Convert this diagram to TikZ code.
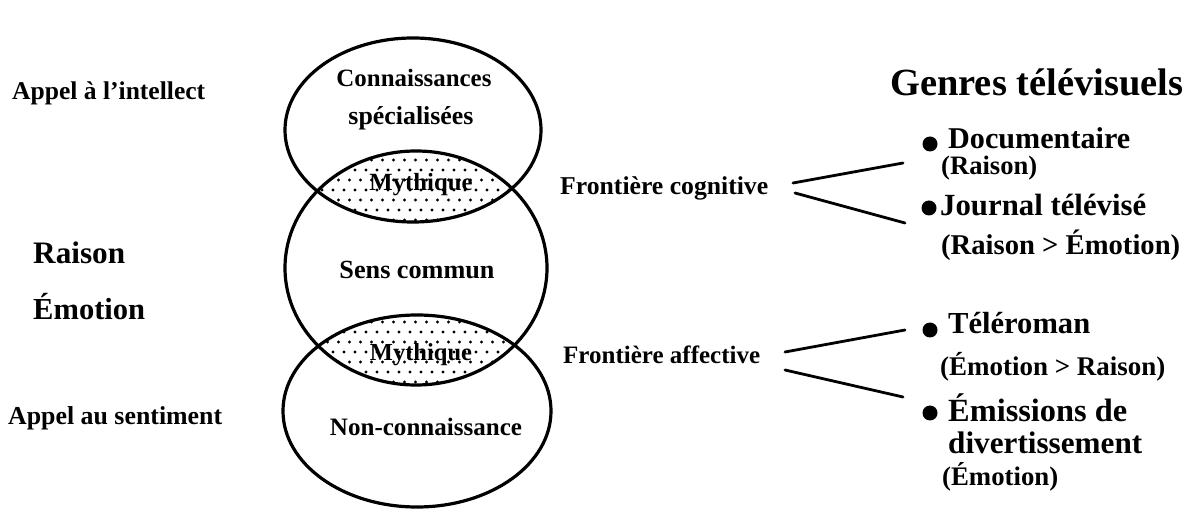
\documentclass[tikz,border=0pt]{standalone}
\usepackage{fontspec}
\setmainfont{Liberation Serif}
\usetikzlibrary{shapes.geometric}
\newcommand\fw[2]{\resizebox{#1bp}{!}{#2}}
\tikzset{
  circ/.style={draw, ellipse, line width=3.2bp, inner sep=0pt},
  lbl/.style={inner sep=0pt, font=\bfseries},
  lft/.style={lbl, anchor=west},
  conn/.style={line width=2.8bp, line cap=round},
  bul/.style={circle, fill=black, inner sep=0pt, minimum size=15bp}
}
\begin{document}
\begin{tikzpicture}[x=1bp,y=-1bp]
\useasboundingbox (0,0) rectangle (1198,511);
% stippled lenses
\begin{scope}
  \clip (413,130) ellipse [x radius=128, y radius=92];
  \clip (416,268) ellipse [x radius=131, y radius=117];
  \foreach \r in {0,...,8}{
    \foreach \c in {0,...,20}{
      \pgfmathsetmacro\xx{300+\c*11+mod(\r,2)*5.5}
      \fill (\xx,150+\r*10) circle (1.7);
    }
  }
\end{scope}
\begin{scope}
  \clip (416,268) ellipse [x radius=131, y radius=117];
  \clip (417,411) ellipse [x radius=134, y radius=96];
  \foreach \r in {0,...,8}{
    \foreach \c in {0,...,20}{
      \pgfmathsetmacro\xx{300+\c*11+mod(\r,2)*5.5}
      \fill (\xx,312+\r*10) circle (1.7);
    }
  }
\end{scope}
% circles
\node[circ, minimum width=256bp, minimum height=184bp] (ctop) at (413,130) {};
\node[circ, minimum width=262bp, minimum height=234bp] (cmid) at (416,268) {};
\node[circ, minimum width=268bp, minimum height=192bp] (cbot) at (417,411) {};
% circle texts
\node[lbl] (conn) at (414,78) {\fw{155}{Connaissances}};
\node[lbl] (spec) at (411,118) {\fw{125}{spécialisées}};
\node[lbl] (myth1) at (421,185) {\fw{103}{Mythique}};
\node[lbl] (sens) at (417,270) {\fw{155}{Sens commun}};
\node[lbl] (myth2) at (421,355) {\fw{102}{Mythique}};
\node[lbl] (nonc) at (426,427) {\fw{192}{Non-connaissance}};
% left texts
\node[lft] (app1) at (12,93) {\fw{193}{Appel à l'intellect}};
\node[lft] (rais) at (33,253) {\fw{92}{Raison}};
\node[lft] (emot) at (33,307) {\fw{112}{Émotion}};
\node[lft] (app2) at (8,418) {\fw{214}{Appel au sentiment}};
% frontiers
\node[lft] (fc) at (560,188) {\fw{208}{Frontière cognitive}};
\node[lft] (fa) at (563,355) {\fw{197}{Frontière affective}};
% right column
\node[lft] (genres) at (890,82) {\fw{293}{Genres télévisuels}};
\node[bul] (b1) at (930,144) {};
\node[lft] (doc) at (948,138) {\fw{182}{Documentaire}};
\node[lft] (r1) at (941,168) {\fw{96}{(Raison)}};
\node[bul] (b2) at (929,208) {};
\node[lft] (jt) at (940,205) {\fw{206}{Journal télévisé}};
\node[lft] (r2) at (941,245) {\fw{239}{(Raison > Émotion)}};
\node[bul] (b3) at (930,330) {};
\node[lft] (tel) at (948,323) {\fw{142}{Téléroman}};
\node[lft] (r3) at (940,367) {\fw{225}{(Émotion > Raison)}};
\node[bul] (b4) at (930,413) {};
\node[lft] (emi) at (948,408) {\fw{179}{Émissions de}};
\node[lft] (div) at (948,443) {\fw{194}{divertissement}};
\node[lft] (r4) at (942,477) {\fw{116}{(Émotion)}};
% connectors
\coordinate (c1a) at (793,183); \coordinate (c1b) at (903,163);
\coordinate (c2a) at (795,193); \coordinate (c2b) at (905,223);
\coordinate (a1a) at (785,352); \coordinate (a1b) at (905,330);
\coordinate (a2a) at (785,370); \coordinate (a2b) at (903,397);
\draw[conn] (c1a) -- (c1b);
\draw[conn] (c2a) -- (c2b);
\draw[conn] (a1a) -- (a1b);
\draw[conn] (a2a) -- (a2b);
\end{tikzpicture}
\end{document}
